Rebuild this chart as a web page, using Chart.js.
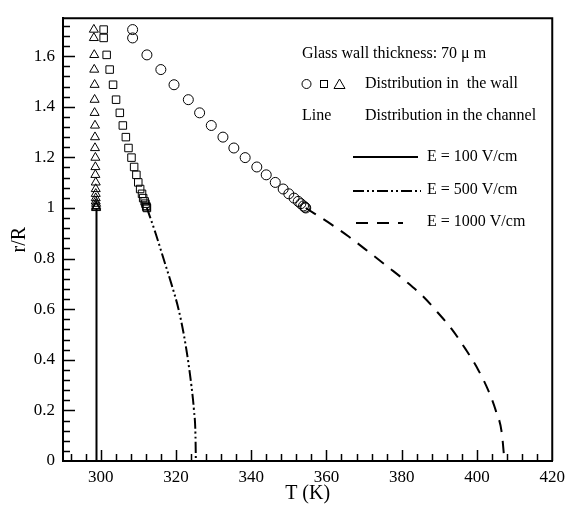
<!DOCTYPE html>
<html>
<head>
<meta charset="utf-8">
<script src="https://cdn.jsdelivr.net/npm/chart.js@4/dist/chart.umd.min.js"></script>
<style>
  html, body { margin: 0; padding: 0; background: #fff; }
  canvas { display: block; }
</style>
</head>
<body>
<canvas id="tempChart" width="571" height="506"></canvas>
<script>
// radial positions of the wall nodes (r/R)
const wallR = [1.0, 1.003, 1.008, 1.017, 1.026, 1.039, 1.056, 1.075, 1.101, 1.131, 1.162,
    1.199, 1.237, 1.280, 1.326, 1.376, 1.428, 1.487, 1.547, 1.605, 1.672, 1.705];

// wall temperatures (K) for each field strength
const wallT100 = [298.8, 298.8, 298.8, 298.8, 298.7, 298.7, 298.7, 298.7, 298.7, 298.6, 298.6,
    298.6, 298.5, 298.5, 298.5, 298.4, 298.4, 298.4, 298.3, 298.3, 298.2, 298.2];
const wallT500 = [312.3, 312.2, 312.1, 311.9, 311.7, 311.3, 311.0, 310.5, 310.0, 309.5, 308.9,
    308.2, 307.4, 306.7, 305.9, 305.1, 304.1, 303.3, 302.4, 301.6, 300.8, 300.8];
const wallT1000 = [354.5, 354.3, 353.9, 353.2, 352.5, 351.4, 350.0, 348.5, 346.4, 344.0, 341.5,
    338.4, 335.4, 332.5, 329.4, 326.3, 323.3, 319.5, 316.0, 312.3, 308.5, 308.5];

// channel profiles
const chanR100 = [0, 1.0];
const chanT100 = [298.9, 298.9];
const chanR500 = [1.0, 0.9, 0.8, 0.7, 0.6, 0.5, 0.4, 0.3, 0.2, 0.1, 0];
const chanT500 = [312.3, 314.6, 316.7, 318.8, 320.7, 322.1, 323.2, 324.1, 324.8, 325.2, 325.3];
const chanR1000 = [1.0, 0.936, 0.887, 0.822, 0.764, 0.708, 0.647, 0.588, 0.523, 0.439, 0.361,
    0.279, 0.199, 0.110, 0];
const chanT1000 = [354.5, 361.2, 365.9, 371.6, 376.6, 381.3, 385.9, 389.5, 393.2, 397.1, 400.3,
    403.0, 405.0, 406.6, 407.3];

const xTicks = [300, 320, 340, 360, 380, 400, 420];
const yTicks = [0, 0.2, 0.4, 0.6, 0.8, 1, 1.2, 1.4, 1.6];

const serif = "'Liberation Serif', 'DejaVu Serif', serif";
const dashDotDot = [11, 3, 2, 3, 2, 3];
const dashed = [12, 9];

const pts = (xs, ys) => xs.map((x, i) => ({ x: x, y: ys[i] }));

function markers(T, style, radius) {
    return {
        data: pts(T, wallR),
        pointStyle: style,
        pointRadius: radius,
        borderColor: "#000",
        backgroundColor: "rgba(0,0,0,0)",
        borderWidth: 1,
        showLine: false
    };
}

function channel(T, R, dash) {
    return {
        data: pts(T, R),
        showLine: true,
        pointRadius: 0,
        borderColor: "#000",
        borderWidth: 2,
        borderDash: dash,
        cubicInterpolationMode: "monotone",
        fill: false
    };
}

// inward ticks and the closing frame
const frameTicks = {
    id: "frameTicks",
    afterDatasetsDraw(chart) {
        const { ctx, chartArea: a, scales: { x, y } } = chart;
        ctx.save();
        ctx.strokeStyle = "#000";
        ctx.lineWidth = 1.5;
        ctx.beginPath();
        for (let v = 292; v < 420; v += 4) {
            const px = Math.round(x.getPixelForValue(v)) + 0.5;
            const len = v % 20 === 0 ? 11 : 7;
            ctx.moveTo(px, a.bottom);
            ctx.lineTo(px, a.bottom - len);
        }
        for (let i = 1; i <= 43; i++) {
            const v = i * 0.04;
            const py = Math.round(y.getPixelForValue(v)) + 0.5;
            const len = i % 5 === 0 ? 12 : 7;
            ctx.moveTo(a.left, py);
            ctx.lineTo(a.left + len, py);
        }
        ctx.stroke();
        ctx.lineWidth = 2;
        ctx.beginPath();
        ctx.moveTo(a.left, a.top);
        ctx.lineTo(a.right, a.top);
        ctx.lineTo(a.right, a.bottom);
        ctx.stroke();
        ctx.restore();
    }
};

// text key in the upper right
const keyBox = {
    id: "keyBox",
    afterDraw(chart) {
        const ctx = chart.ctx;
        ctx.save();
        ctx.fillStyle = "#000";
        ctx.strokeStyle = "#000";
        ctx.font = "16px " + serif;
        ctx.textBaseline = "middle";
        ctx.fillText("Glass wall thickness: 70 \u03bc m", 302, 54);
        ctx.fillText("Distribution in  the wall", 365, 84);
        ctx.fillText("Line", 302, 116);
        ctx.fillText("Distribution in the channel", 365, 116);
        ctx.fillText("E = 100 V/cm", 427, 157);
        ctx.fillText("E = 500 V/cm", 427, 190);
        ctx.fillText("E = 1000 V/cm", 427, 222);

        ctx.lineWidth = 1;
        ctx.beginPath();
        ctx.arc(306.5, 84, 4.5, 0, Math.PI * 2);
        ctx.stroke();
        ctx.strokeRect(320.5, 80.5, 7, 7);
        ctx.beginPath();
        ctx.moveTo(334, 88.5);
        ctx.lineTo(339.5, 79);
        ctx.lineTo(345, 88.5);
        ctx.closePath();
        ctx.stroke();

        ctx.lineWidth = 2;
        const rows = [[157, [], 353, 418], [191, dashDotDot, 353, 421], [223, dashed, 356, 403]];
        rows.forEach(([yy, d, x0, x1]) => {
            ctx.setLineDash(d);
            ctx.beginPath();
            ctx.moveTo(x0, yy);
            ctx.lineTo(x1, yy);
            ctx.stroke();
        });
        ctx.restore();
    }
};

new Chart(document.getElementById("tempChart"), {
    type: "scatter",
    data: {
        datasets: [
            markers(wallT1000, "circle", 5),
            markers(wallT500, "rect", 5.3),
            markers(wallT100, "triangle", 5.2),
            channel(chanT100, chanR100, []),
            channel(chanT500, chanR500, dashDotDot),
            channel(chanT1000, chanR1000, dashed)
        ]
    },
    options: {
        responsive: false,
        animation: false,
        layout: { padding: { left: 0, top: 11, right: 14, bottom: 0 } },
        plugins: { legend: { display: false }, tooltip: { enabled: false } },
        scales: {
            x: {
                type: "linear",
                min: 290,
                max: 420,
                afterBuildTicks: s => { s.ticks = xTicks.map(v => ({ value: v })); },
                afterFit: s => { s.height = 45; },
                grid: { display: false, drawTicks: false },
                border: { display: true, color: "#000", width: 2 },
                ticks: { color: "#000", font: { family: serif, size: 17 }, padding: 6, maxRotation: 0 },
                title: { display: true, text: "T (K)", color: "#000",
                    font: { family: serif, size: 20 }, padding: { top: 0, bottom: 0 } }
            },
            y: {
                type: "linear",
                min: 0,
                max: 1.75,
                afterBuildTicks: s => { s.ticks = yTicks.map(v => ({ value: v })); },
                afterFit: s => { s.width = 63; },
                grid: { display: false, drawTicks: false },
                border: { display: true, color: "#000", width: 2 },
                ticks: { color: "#000", font: { family: serif, size: 17 }, padding: 8,
                    callback: v => String(v) },
                title: { display: true, text: "r/R", color: "#000",
                    font: { family: serif, size: 20 }, padding: { top: 8, bottom: 0 } }
            }
        }
    },
    plugins: [frameTicks, keyBox]
});
</script>
</body>
</html>
